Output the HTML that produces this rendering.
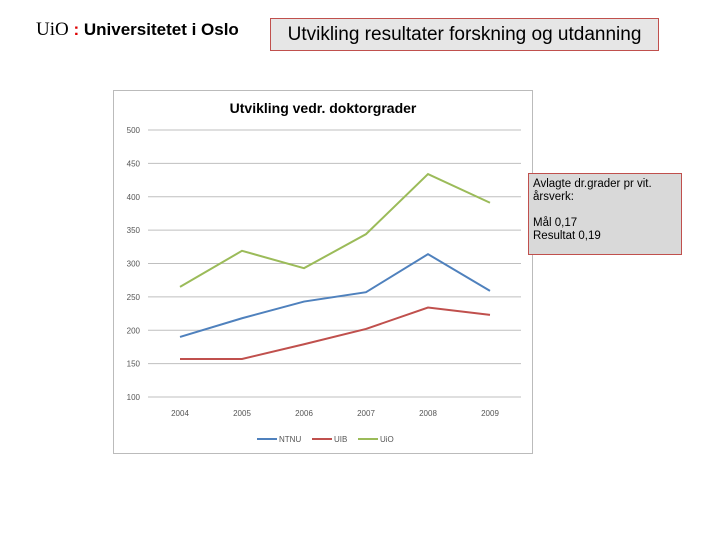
<!DOCTYPE html>
<html><head><meta charset="utf-8"><style>
body{margin:0;width:720px;height:540px;background:#fff;position:relative;overflow:hidden;font-family:"Liberation Sans",sans-serif}
#logo{position:absolute;left:36px;top:19px;font-size:17px;white-space:nowrap}
#hdr{position:absolute;left:270px;top:18px;width:387px;height:31px;border:1px solid #c0504d;background:#e6e6e6;font-size:19px;line-height:31px;text-align:center;box-sizing:content-box}
#callout{position:absolute;left:528px;top:173px;width:144px;height:72px;border:1px solid #c0504d;background:#d9d9d9;font-size:11.5px;padding:4px;line-height:13px}
svg{position:absolute;left:0;top:0}
</style></head><body>
<div id="logo"><span style="font-family:'Liberation Serif',serif;font-size:19px">UiO</span> <span style="color:#d00;font-weight:bold">:</span> <b>Universitetet i Oslo</b></div>
<div id="hdr">Utvikling resultater forskning og utdanning</div>
<svg width="720" height="540" id="chart">
<rect x="113.5" y="90.5" width="419" height="363" fill="#fff" stroke="#bbb"/>
<text x="323" y="113" font-size="14" font-weight="bold" text-anchor="middle" fill="#000">Utvikling vedr. doktorgrader</text>
<g id="grid"></g><g id="series"></g><g id="legend"></g>
</svg>
<div id="callout">Avlagte dr.grader pr vit. årsverk:<br><br>Mål 0,17<br>Resultat 0,19</div>
<script>
const years=["2004","2005","2006","2007","2008","2009"];
const ticks=[100,150,200,250,300,350,400,450,500];
const ntnu=[190,218,243,257,314,259];
const uib=[157,157,179,202,234,223];
const uio=[265,319,293,344,434,391];
const names=["NTNU","UIB","UiO"];
const colors=["#4f81bd","#c0504d","#9bbb59"];
const NS="http://www.w3.org/2000/svg";
const y=v=>397-(v-100)*(267/400);
const x=i=>180+i*62;
function mk(t,a,p){const e=document.createElementNS(NS,t);for(const k in a)e.setAttribute(k,a[k]);p.appendChild(e);return e;}
const g=document.getElementById('grid');
ticks.forEach(t=>{
 const l=mk('line',{x1:148,x2:521,y1:y(t),y2:y(t),stroke:'#bfbfbf','stroke-width':1},g);
 
 
 const tx=mk('text',{x:140,y:y(t)+3,'font-size':8,'text-anchor':'end',fill:'#555'},g);tx.textContent=t;
 
 
});
years.forEach((yr,i)=>{
 const tx=mk('text',{x:x(i),y:416,'font-size':8,'text-anchor':'middle',fill:'#555'},g);tx.textContent=yr;
 
 
});
const s=document.getElementById('series');
[ntnu,uib,uio].forEach((d,k)=>{
 const p=mk('polyline',{points:d.map((v,i)=>x(i)+','+y(v)).join(' '),fill:'none',stroke:colors[k],'stroke-width':2},s);
 
 
});
const lg=document.getElementById('legend');
const lx=[257,312,358];
names.forEach((n,k)=>{
 const l=mk('line',{x1:lx[k],x2:lx[k]+20,y1:439,y2:439,stroke:colors[k],'stroke-width':2},lg);
 
 
 const t=mk('text',{x:lx[k]+22,y:442,'font-size':8,fill:'#555'},lg);t.textContent=n;
 
 
});
</script>
</body></html>
